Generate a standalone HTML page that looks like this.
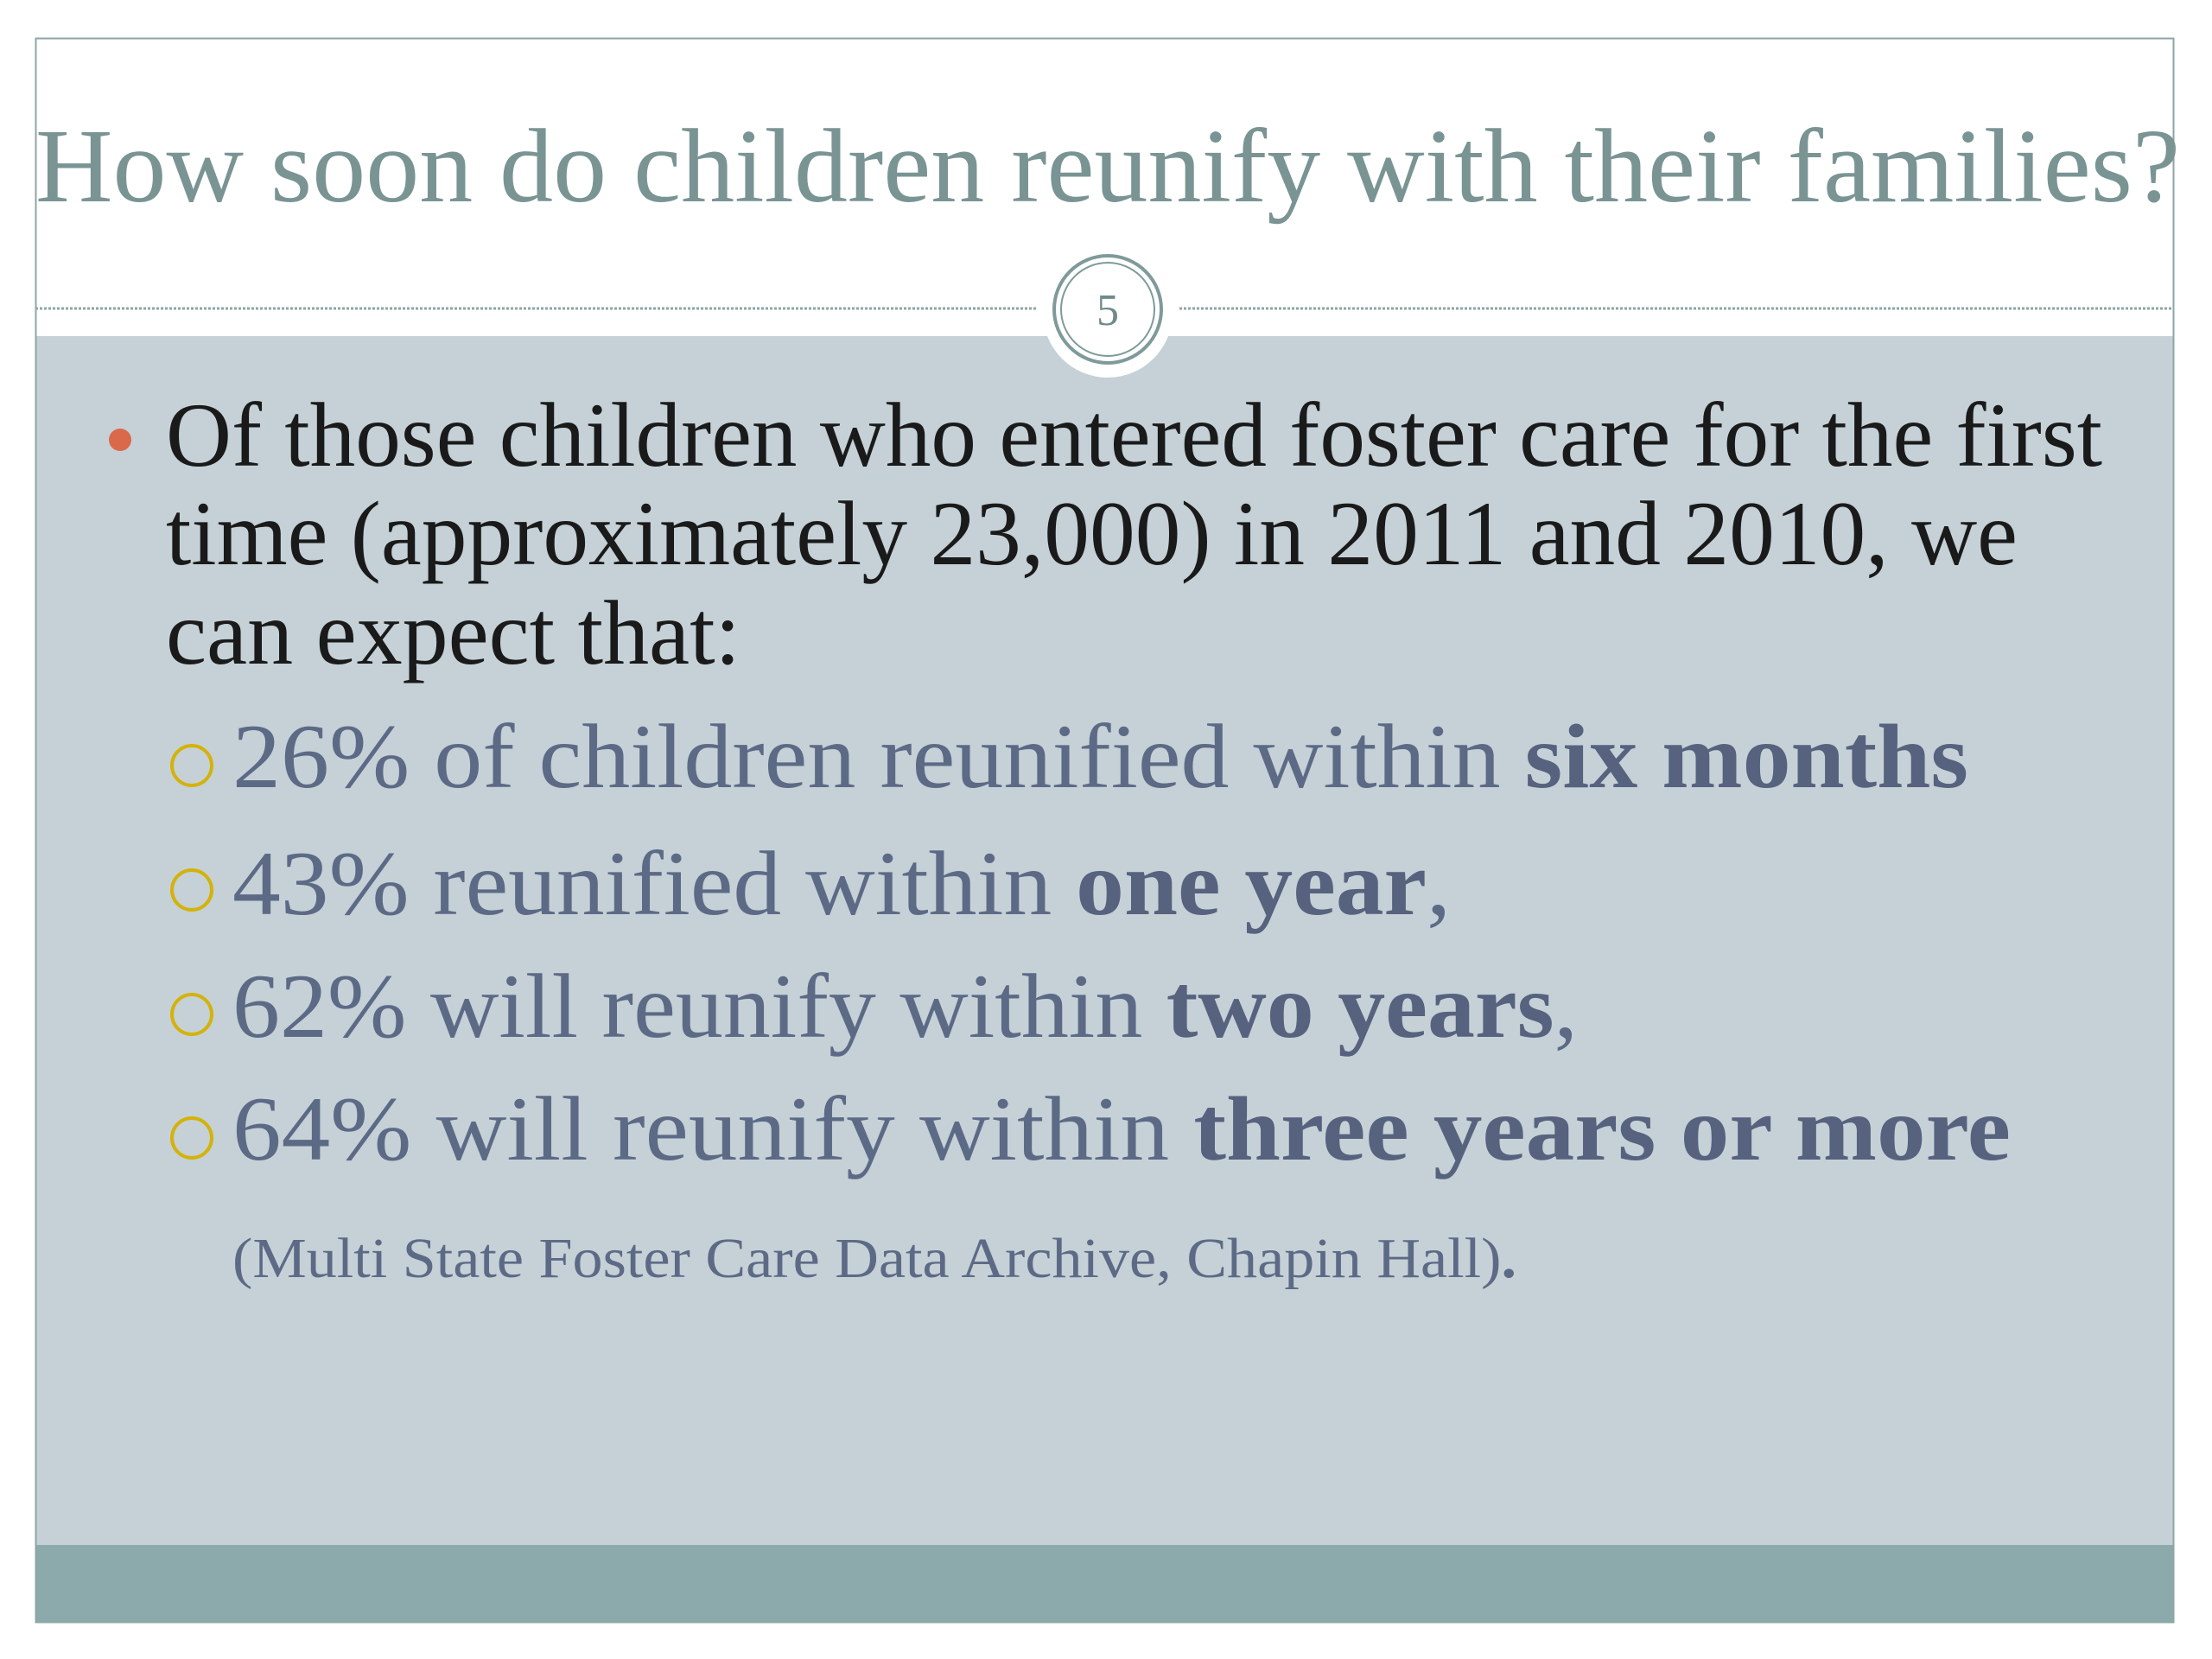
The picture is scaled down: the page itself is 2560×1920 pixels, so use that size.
<!DOCTYPE html>
<html><head><meta charset="utf-8"><style>
html,body{margin:0;padding:0;background:#fff;width:2560px;height:1920px;overflow:hidden}
svg{display:block}
text{font-family:"Liberation Serif",serif}
</style></head><body>
<svg width="2560" height="1920" viewBox="0 0 2560 1920">
<rect x="0" y="0" width="2560" height="1920" fill="#ffffff"/>
<rect x="41" y="389" width="2475" height="1400" fill="#c5d1d7"/>
<rect x="41" y="1788" width="2475" height="89" fill="#8caaac"/>
<rect x="41.5" y="44.5" width="2474" height="1833" fill="none" stroke="#8ea5a5" stroke-width="2"/>
<text x="41" y="233" font-size="122" fill="#7a9494" textLength="2482" lengthAdjust="spacingAndGlyphs">How soon do children reunify with their families?</text>
<line x1="41" y1="357" x2="1200" y2="357" stroke="#8ea5a5" stroke-width="3" stroke-dasharray="3,2"/>
<line x1="1365" y1="357" x2="2516" y2="357" stroke="#8ea5a5" stroke-width="3" stroke-dasharray="3,2"/>
<circle cx="1282" cy="362" r="75" fill="#ffffff"/>
<circle cx="1282" cy="358" r="62" fill="none" stroke="#7f9a9a" stroke-width="4"/>
<circle cx="1282" cy="358" r="54" fill="none" stroke="#7f9a9a" stroke-width="2"/>
<text x="1282" y="376" font-size="52" fill="#6f8a8a" text-anchor="middle">5</text>
<circle cx="139" cy="509" r="13" fill="#d9694a"/>
<g fill="#1a1a1a" font-size="106">
<text x="192" y="539" textLength="2241" lengthAdjust="spacingAndGlyphs">Of those children who entered foster care for the first</text>
<text x="192" y="653" textLength="2143" lengthAdjust="spacingAndGlyphs">time (approximately 23,000) in 2011 and 2010, we</text>
<text x="192" y="768" textLength="665" lengthAdjust="spacingAndGlyphs">can expect that:</text>
</g>
<g fill="none" stroke="#d4b20a" stroke-width="4">
<circle cx="222" cy="886" r="23"/>
<circle cx="222" cy="1030" r="23"/>
<circle cx="222" cy="1174" r="23"/>
<circle cx="222" cy="1317" r="23"/>
</g>
<g fill="#5d6a86" font-size="106">
<text x="269" y="911" textLength="2009" lengthAdjust="spacingAndGlyphs">26% of children reunified within <tspan font-weight="bold" fill="#56627e">six months</tspan></text>
<text x="269" y="1058" textLength="1410" lengthAdjust="spacingAndGlyphs">43% reunified within <tspan font-weight="bold" fill="#56627e">one year</tspan>,</text>
<text x="269" y="1200" textLength="1557" lengthAdjust="spacingAndGlyphs">62% will reunify within <tspan font-weight="bold" fill="#56627e">two years</tspan>,</text>
<text x="269" y="1342" textLength="2058" lengthAdjust="spacingAndGlyphs">64% will reunify within <tspan font-weight="bold" fill="#56627e">three years or more</tspan></text>
</g>
<text x="269" y="1478" font-size="66" fill="#5d6a86" textLength="1486" lengthAdjust="spacingAndGlyphs">(Multi State Foster Care Data Archive, Chapin Hall)<tspan font-weight="bold">.</tspan></text>
</svg>
</body></html>
